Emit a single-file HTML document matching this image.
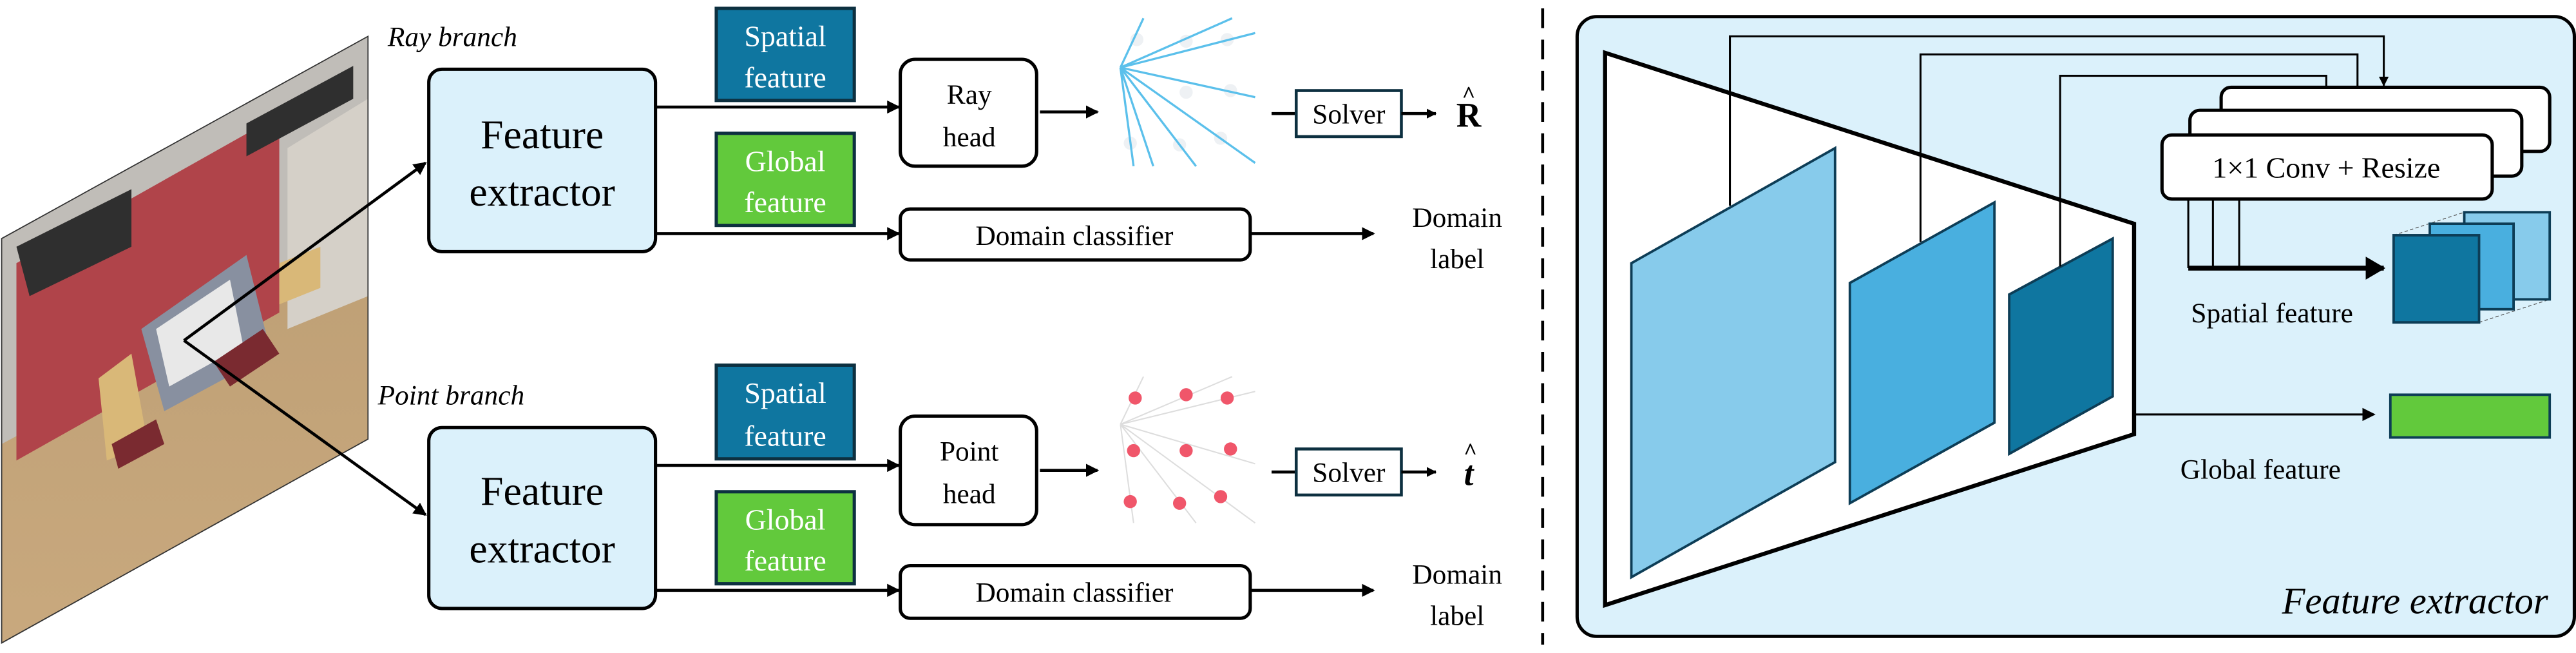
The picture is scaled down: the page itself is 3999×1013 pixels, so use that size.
<!DOCTYPE html>
<html><head><meta charset="utf-8"><style>
html,body{margin:0;padding:0;background:#fff}
svg{display:block}
svg, svg text{font-family:"Liberation Serif","Times New Roman",Times,"DejaVu Serif",serif !important}
</style></head><body>
<svg width="3999" height="1013" viewBox="0 0 1568 397" xmlns="http://www.w3.org/2000/svg" style="font-family:'Liberation Serif','Times New Roman',Times,serif">
<defs>
<marker id="ah" markerWidth="8" markerHeight="8" refX="7" refY="4" orient="auto" markerUnits="userSpaceOnUse"><path d="M0,0 L8,4 L0,8 Z" fill="#000"/></marker>
<marker id="ahs" markerWidth="6" markerHeight="6" refX="5.5" refY="3" orient="auto" markerUnits="userSpaceOnUse"><path d="M0,0 L6,3 L0,6 Z" fill="#000"/></marker>
<marker id="ahb" markerWidth="12" markerHeight="14" refX="11" refY="7" orient="auto" markerUnits="userSpaceOnUse"><path d="M0,0 L12,7 L0,14 Z" fill="#000"/></marker>
<clipPath id="pc"><polygon points="1,145 224,22 224,267 1,391"/></clipPath>
<linearGradient id="fl" x1="0" y1="0" x2="0" y2="1"><stop offset="0" stop-color="#b89a70"/><stop offset="1" stop-color="#c9a97e"/></linearGradient>
</defs>

<g clip-path="url(#pc)">
<rect x="0" y="0" width="230" height="400" fill="url(#fl)"/>
<polygon points="1,145 224,22 224,150 1,270" fill="#c0bdb8"/>
<polygon points="10,160 170,70 170,190 10,280" fill="#b0444a"/>
<polygon points="10,150 80,115 80,150 18,180" fill="#2f2f2f"/>
<polygon points="150,75 215,40 215,60 150,95" fill="#2f2f2f"/>
<polygon points="175,90 224,60 224,180 175,200" fill="#d5d0c8"/>
<polygon points="86,200 150,155 165,215 100,250" fill="#8890a0"/>
<polygon points="95,200 140,170 148,210 103,235" fill="#e8e8e8"/>
<polygon points="60,230 80,215 90,270 65,280" fill="#d9b878"/>
<polygon points="170,160 195,150 195,175 170,185" fill="#d9b878"/>
<polygon points="130,220 160,200 170,215 140,235" fill="#7a2a30"/>
<polygon points="68,270 95,255 100,270 72,285" fill="#7a2a30"/>
</g>
<polygon points="1,145 224,22 224,267 1,391" fill="none" stroke="#333" stroke-width="0.7"/>
<line x1="112" y1="207" x2="259" y2="99" stroke="#000" stroke-width="1.8" marker-end="url(#ah)"/>
<line x1="112" y1="207" x2="259" y2="313" stroke="#000" stroke-width="1.8" marker-end="url(#ah)"/>

<text x="236" y="28" font-size="17" font-style="italic">Ray branch</text>
<text x="230" y="246" font-size="17" font-style="italic">Point branch</text>

<rect x="261" y="42" width="138" height="111" rx="8" fill="#dbf1fb" stroke="#000" stroke-width="2"/>
<text x="330" y="90" font-size="25" text-anchor="middle">Feature</text>
<text x="330" y="125" font-size="25" text-anchor="middle">extractor</text>
<rect x="436" y="5" width="84" height="56" fill="#0f76a0" stroke="#0d3040" stroke-width="2"/>
<text x="478" y="28" font-size="18" fill="#fff" text-anchor="middle">Spatial</text>
<text x="478" y="53" font-size="18" fill="#fff" text-anchor="middle">feature</text>
<rect x="436" y="81" width="84" height="56" fill="#62c93c" stroke="#0d3040" stroke-width="2"/>
<text x="478" y="104" font-size="18" fill="#fff" text-anchor="middle">Global</text>
<text x="478" y="129" font-size="18" fill="#fff" text-anchor="middle">feature</text>
<line x1="399" y1="65" x2="547" y2="65" stroke="#000" stroke-width="1.8" marker-end="url(#ah)"/>
<line x1="399" y1="142" x2="547" y2="142" stroke="#000" stroke-width="1.8" marker-end="url(#ah)"/>
<rect x="548" y="36" width="83" height="65" rx="9" fill="#fff" stroke="#000" stroke-width="2"/>
<text x="590" y="63" font-size="17" text-anchor="middle">Ray</text>
<text x="590" y="89" font-size="17" text-anchor="middle">head</text>
<line x1="633" y1="68" x2="668" y2="68" stroke="#000" stroke-width="1.8" marker-end="url(#ah)"/>
<rect x="548" y="127" width="213" height="31" rx="6" fill="#fff" stroke="#000" stroke-width="2"/>
<text x="654" y="149" font-size="17" text-anchor="middle">Domain classifier</text>
<line x1="761" y1="142" x2="836" y2="142" stroke="#000" stroke-width="1.8" marker-end="url(#ah)"/>
<text x="887" y="138" font-size="17" text-anchor="middle">Domain</text>
<text x="887" y="163" font-size="17" text-anchor="middle">label</text>
<g fill="#eef1f4"><circle cx="692" cy="24" r="4"/><circle cx="722" cy="25" r="4"/><circle cx="747" cy="24" r="4"/><circle cx="722" cy="56" r="4"/><circle cx="749" cy="55" r="4"/><circle cx="688" cy="87" r="4"/><circle cx="718" cy="88" r="4"/><circle cx="743" cy="84" r="4"/></g>
<g stroke="#5bc0eb" stroke-width="1.3">
<line x1="682" y1="41" x2="750" y2="11"/><line x1="682" y1="41" x2="764" y2="20"/>
<line x1="682" y1="41" x2="764" y2="59"/><line x1="682" y1="41" x2="764" y2="99"/>
<line x1="682" y1="41" x2="728" y2="101"/><line x1="682" y1="41" x2="702" y2="101"/>
<line x1="682" y1="41" x2="690" y2="101"/><line x1="682" y1="41" x2="696" y2="11"/>
</g>
<line x1="774" y1="69" x2="789" y2="69" stroke="#000" stroke-width="1.8"/>
<rect x="789" y="55" width="64" height="28" fill="#fff" stroke="#0d3040" stroke-width="1.8"/>
<text x="821" y="75" font-size="17" text-anchor="middle">Solver</text>
<line x1="853" y1="69" x2="874" y2="69" stroke="#000" stroke-width="1.8" marker-end="url(#ahs)"/>
<text x="894" y="77" font-size="21" font-weight="bold" text-anchor="middle">R</text>
<text x="894" y="62" font-size="14" font-weight="bold" text-anchor="middle">^</text>

<rect x="261" y="260" width="138" height="110" rx="8" fill="#dbf1fb" stroke="#000" stroke-width="2"/>
<text x="330" y="307" font-size="25" text-anchor="middle">Feature</text>
<text x="330" y="342" font-size="25" text-anchor="middle">extractor</text>
<rect x="436" y="222" width="84" height="57" fill="#0f76a0" stroke="#0d3040" stroke-width="2"/>
<text x="478" y="245" font-size="18" fill="#fff" text-anchor="middle">Spatial</text>
<text x="478" y="271" font-size="18" fill="#fff" text-anchor="middle">feature</text>
<rect x="436" y="299" width="84" height="56" fill="#62c93c" stroke="#0d3040" stroke-width="2"/>
<text x="478" y="322" font-size="18" fill="#fff" text-anchor="middle">Global</text>
<text x="478" y="347" font-size="18" fill="#fff" text-anchor="middle">feature</text>
<line x1="399" y1="283" x2="547" y2="283" stroke="#000" stroke-width="1.8" marker-end="url(#ah)"/>
<line x1="399" y1="359" x2="547" y2="359" stroke="#000" stroke-width="1.8" marker-end="url(#ah)"/>
<rect x="548" y="253" width="83" height="66" rx="9" fill="#fff" stroke="#000" stroke-width="2"/>
<text x="590" y="280" font-size="17" text-anchor="middle">Point</text>
<text x="590" y="306" font-size="17" text-anchor="middle">head</text>
<line x1="633" y1="286" x2="668" y2="286" stroke="#000" stroke-width="1.8" marker-end="url(#ah)"/>
<rect x="548" y="344" width="213" height="32" rx="6" fill="#fff" stroke="#000" stroke-width="2"/>
<text x="654" y="366" font-size="17" text-anchor="middle">Domain classifier</text>
<line x1="761" y1="359" x2="836" y2="359" stroke="#000" stroke-width="1.8" marker-end="url(#ah)"/>
<text x="887" y="355" font-size="17" text-anchor="middle">Domain</text>
<text x="887" y="380" font-size="17" text-anchor="middle">label</text>
<g stroke="#dddddd" stroke-width="0.8">
<line x1="682" y1="258" x2="750" y2="229"/><line x1="682" y1="258" x2="764" y2="238"/>
<line x1="682" y1="258" x2="764" y2="282"/><line x1="682" y1="258" x2="764" y2="318"/>
<line x1="682" y1="258" x2="728" y2="318"/><line x1="682" y1="258" x2="690" y2="318"/>
<line x1="682" y1="258" x2="696" y2="229"/>
</g>
<g fill="#f0566a"><circle cx="691" cy="242" r="4"/><circle cx="722" cy="240" r="4"/><circle cx="747" cy="242" r="4"/><circle cx="690" cy="274" r="4"/><circle cx="722" cy="274" r="4"/><circle cx="749" cy="273" r="4"/><circle cx="688" cy="305" r="4"/><circle cx="718" cy="306" r="4"/><circle cx="743" cy="302" r="4"/></g>
<line x1="774" y1="287" x2="789" y2="287" stroke="#000" stroke-width="1.8"/>
<rect x="789" y="273" width="64" height="28" fill="#fff" stroke="#0d3040" stroke-width="1.8"/>
<text x="821" y="293" font-size="17" text-anchor="middle">Solver</text>
<line x1="853" y1="287" x2="874" y2="287" stroke="#000" stroke-width="1.8" marker-end="url(#ahs)"/>
<text x="894" y="295" font-size="21" font-weight="bold" font-style="italic" text-anchor="middle">t</text>
<text x="895" y="279" font-size="14" font-weight="bold" text-anchor="middle">^</text>

<line x1="939" y1="5" x2="939" y2="392" stroke="#000" stroke-width="1.8" stroke-dasharray="12,7"/>

<rect x="960" y="10" width="607" height="377" rx="12" fill="#dbf1fb" stroke="#000" stroke-width="2"/>
<polygon points="977,32 1299,136 1299,264 977,368" fill="#fff" stroke="#000" stroke-width="2.5"/>
<polygon points="993,160 1117,90 1117,281 993,351" fill="#87cbeb" stroke="#0d3d56" stroke-width="1.5"/>
<polygon points="1126,172 1214,123 1214,257 1126,306" fill="#49afdf" stroke="#0d3d56" stroke-width="1.5"/>
<polygon points="1223,179 1286,145 1286,241 1223,276" fill="#0f76a0" stroke="#0d3d56" stroke-width="1.5"/>
<g fill="none" stroke="#000" stroke-width="1.2">
<polyline points="1053,125 1053,22 1451,22 1451,52" marker-end="url(#ahs)"/>
<polyline points="1169,147 1169,33 1435,33 1435,66" marker-end="url(#ahs)"/>
<polyline points="1254,162 1254,46 1416,46 1416,80" marker-end="url(#ahs)"/>
</g>
<rect x="1352" y="53" width="200" height="39" rx="6" fill="#fff" stroke="#000" stroke-width="2"/>
<rect x="1333" y="67" width="202" height="40" rx="6" fill="#fff" stroke="#000" stroke-width="2"/>
<rect x="1316" y="82" width="201" height="39" rx="6" fill="#fff" stroke="#000" stroke-width="2"/>
<text x="1416" y="108" font-size="18" text-anchor="middle">1×1 Conv + Resize</text>
<g stroke="#000" stroke-width="1.2"><line x1="1332" y1="121" x2="1332" y2="163"/><line x1="1347" y1="121" x2="1347" y2="163"/><line x1="1363" y1="121" x2="1363" y2="163"/></g>
<line x1="1332" y1="163" x2="1451" y2="163" stroke="#000" stroke-width="3" marker-end="url(#ahb)"/>
<g stroke="#555" stroke-width="0.5" stroke-dasharray="2,1.5"><line x1="1457" y1="143" x2="1500" y2="129"/><line x1="1509" y1="196" x2="1552" y2="182"/></g>
<rect x="1500" y="129" width="52" height="53" fill="#87cbeb" stroke="#0d3d56" stroke-width="1.5"/>
<rect x="1479" y="136" width="51" height="52" fill="#49afdf" stroke="#0d3d56" stroke-width="1.5"/>
<rect x="1457" y="143" width="52" height="53" fill="#0f76a0" stroke="#0d3d56" stroke-width="1.5"/>
<text x="1383" y="196" font-size="17" text-anchor="middle">Spatial feature</text>
<line x1="1299" y1="252" x2="1445" y2="252" stroke="#000" stroke-width="1.2" marker-end="url(#ah)"/>
<rect x="1455" y="240" width="97" height="26" fill="#62c93c" stroke="#0d3d56" stroke-width="1.5"/>
<text x="1376" y="291" font-size="17" text-anchor="middle">Global feature</text>
<text x="1551" y="373" font-size="23" font-style="italic" text-anchor="end">Feature extractor</text>
</svg>
</body></html>
